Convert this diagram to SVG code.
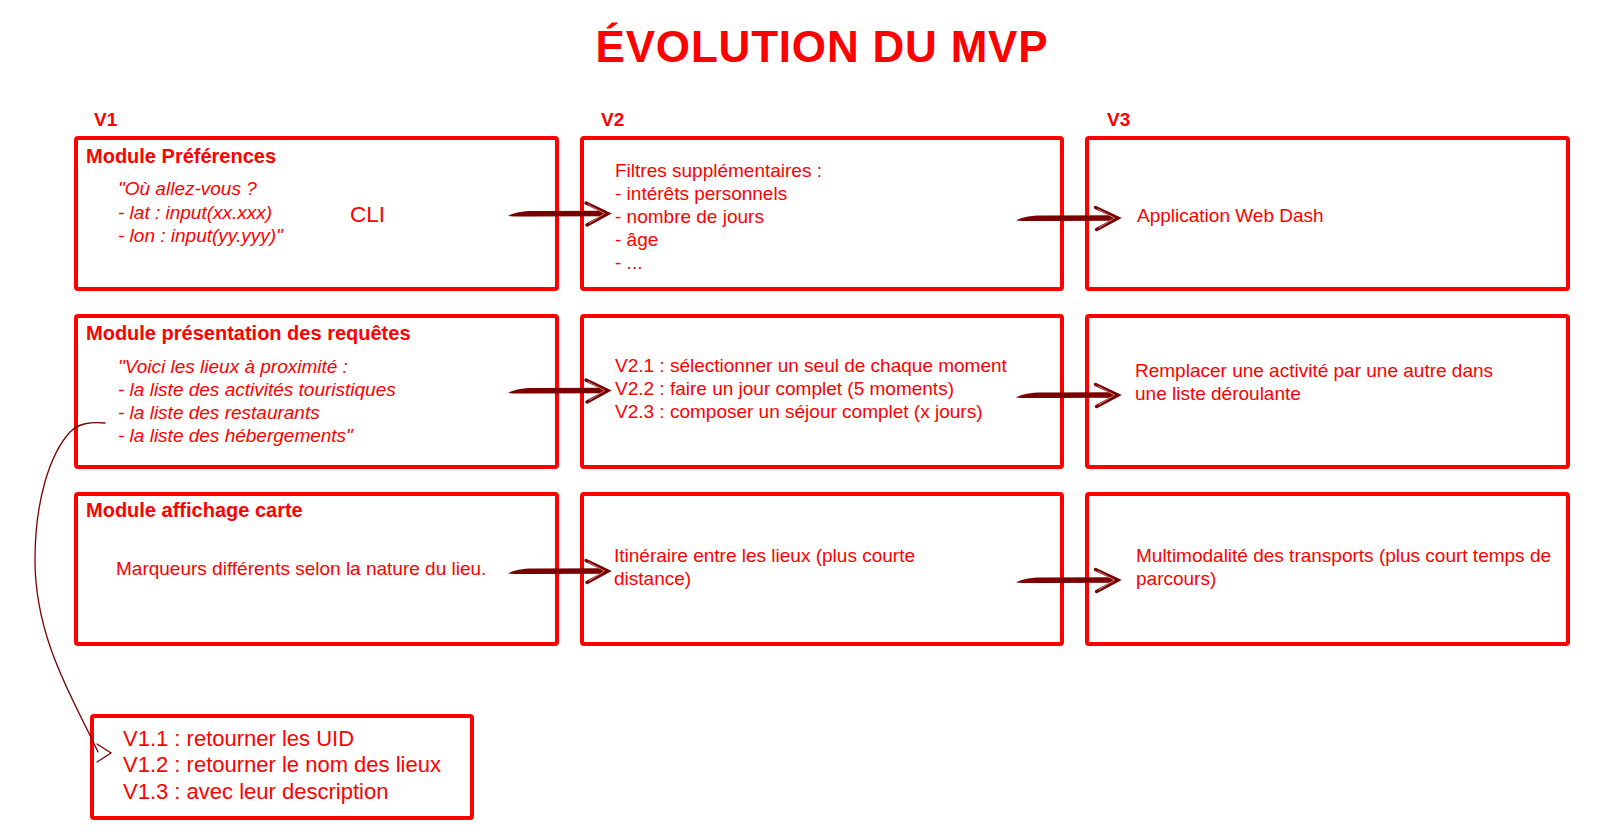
<svg xmlns="http://www.w3.org/2000/svg" xmlns:xlink="http://www.w3.org/1999/xlink" width="1604" height="838" viewBox="0 0 1604 838">
<style>
  .box { fill: #ffffff; stroke: #ff0000; stroke-width: 4; }
  .t { font-family: "Liberation Sans", Arial, sans-serif; fill: #ff0000; font-size: 19px; }
  .h { font-family: "Liberation Sans", Arial, sans-serif; fill: #ff0000; font-size: 20px; font-weight: bold; }
  .v { font-family: "Liberation Sans", Arial, sans-serif; fill: #ff0000; font-size: 19px; font-weight: bold; }
  .i { font-style: italic; }
  .big { font-size: 22px; }
  .cli { font-size: 22.5px; }
  .shaft { fill: #7a0000; }
  .head { fill: none; stroke: #7a0000; stroke-width: 3.4; stroke-linejoin: miter; stroke-linecap: round; }
  .headhl { fill: none; stroke: #d9a0a0; stroke-width: 0.8; }
  .curve { fill: none; stroke: #7a0000; stroke-width: 1.3; stroke-linecap: round; }
</style>
<defs>
  <g id="arr">
    <path class="shaft" d="M0,2.5 C6,-1 14,-2.5 26,-2.5 L97,-2.8 L97,2.8 L26,3 C14,3 6,3.2 0,2.5 Z"/>
    <path class="head" d="M78,-10.5 L100,0 L79,11.5"/>
    <path class="headhl" d="M80,-9 L96.5,0 L81,10"/>
  </g>
</defs>
<rect x="0" y="0" width="1604" height="838" fill="#ffffff"/>

<text id="title" x="822" y="62" text-anchor="middle" font-family="'Liberation Sans', Arial, sans-serif" font-size="44" font-weight="bold" letter-spacing="0.8" fill="#ff0000">ÉVOLUTION DU MVP</text>

<text class="v" x="94" y="126">V1</text>
<text class="v" x="601" y="126">V2</text>
<text class="v" x="1107" y="126">V3</text>

<g id="v1-pref">
  <rect class="box" x="76" y="138" width="481" height="151" rx="2"/>
  <text class="h" x="86" y="163">Module Préférences</text>
  <text class="t i" x="118" y="195">"Où allez-vous ?</text>
  <text class="t i" x="118" y="219">- lat : input(xx.xxx)</text>
  <text class="t i" x="118" y="242">- lon : input(yy.yyy)"</text>
  <text class="t cli" x="350" y="222">CLI</text>
</g>

<g id="v2-filters">
  <rect class="box" x="582" y="138" width="480" height="151" rx="2"/>
  <text class="t" x="615" y="177">Filtres supplémentaires :</text>
  <text class="t" x="615" y="200">- intérêts personnels</text>
  <text class="t" x="615" y="223">- nombre de jours</text>
  <text class="t" x="615" y="246">- âge</text>
  <text class="t" x="615" y="269">- ...</text>
</g>

<g id="v3-web">
  <rect class="box" x="1087" y="138" width="481" height="151" rx="2"/>
  <text class="t" x="1137" y="222">Application Web Dash</text>
</g>

<g id="v1-requests">
  <rect class="box" x="76" y="316" width="481" height="151" rx="2"/>
  <text class="h" x="86" y="340">Module présentation des requêtes</text>
  <text class="t i" x="118" y="373">"Voici les lieux à proximité :</text>
  <text class="t i" x="118" y="396">- la liste des activités touristiques</text>
  <text class="t i" x="118" y="419">- la liste des restaurants</text>
  <text class="t i" x="118" y="442">- la liste des hébergements"</text>
</g>

<g id="v2-select">
  <rect class="box" x="582" y="316" width="480" height="151" rx="2"/>
  <text class="t" x="615" y="372">V2.1 : sélectionner un seul de chaque moment</text>
  <text class="t" x="615" y="395">V2.2 : faire un jour complet (5 moments)</text>
  <text class="t" x="615" y="418">V2.3 : composer un séjour complet (x jours)</text>
</g>

<g id="v3-replace">
  <rect class="box" x="1087" y="316" width="481" height="151" rx="2"/>
  <text class="t" x="1135" y="377">Remplacer une activité par une autre dans</text>
  <text class="t" x="1135" y="400">une liste déroulante</text>
</g>

<g id="v1-map">
  <rect class="box" x="76" y="494" width="481" height="150" rx="2"/>
  <text class="h" x="86" y="517">Module affichage carte</text>
  <text class="t" x="116" y="575">Marqueurs différents selon la nature du lieu.</text>
</g>

<g id="v2-route">
  <rect class="box" x="582" y="494" width="480" height="150" rx="2"/>
  <text class="t" x="614" y="562">Itinéraire entre les lieux (plus courte</text>
  <text class="t" x="614" y="585">distance)</text>
</g>

<g id="v3-multimodal">
  <rect class="box" x="1087" y="494" width="481" height="150" rx="2"/>
  <text class="t" x="1136" y="562">Multimodalité des transports (plus court temps de</text>
  <text class="t" x="1136" y="585">parcours)</text>
</g>

<g id="v1-sub">
  <rect class="box" x="92" y="716" width="380" height="102" rx="2"/>
  <text class="t big" x="123" y="746">V1.1 : retourner les UID</text>
  <text class="t big" x="123" y="772">V1.2 : retourner le nom des lieux</text>
  <text class="t big" x="123" y="799">V1.3 : avec leur description</text>
</g>

<g id="connectors">
  <use xlink:href="#arr" transform="translate(508,213.5)"/>
  <use xlink:href="#arr" transform="translate(1016,218) scale(1.02,1)"/>
  <use xlink:href="#arr" transform="translate(508,390.5)"/>
  <use xlink:href="#arr" transform="translate(1016,395) scale(1.02,1)"/>
  <use xlink:href="#arr" transform="translate(508,571)"/>
  <use xlink:href="#arr" transform="translate(1016,580) scale(1.02,1)"/>
  <path class="curve" d="M105,423 C90,422 79,423 70,432 C50,454 35,500 35,560 C35,640 74,700 98,752" stroke-width="1.4"/>
  <path class="curve" d="M97,744 L111,753 L97,762" stroke-width="2"/>
</g>
</svg>
